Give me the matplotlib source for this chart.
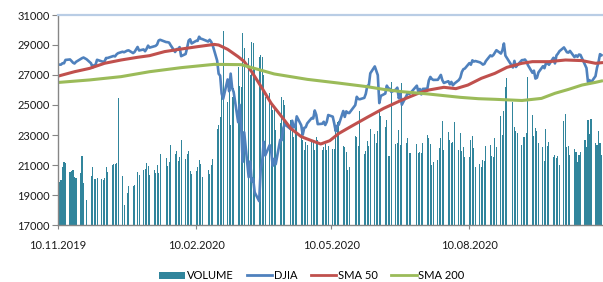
import numpy as np
import pandas as pd
import matplotlib
matplotlib.use("Agg")
import matplotlib.pyplot as plt
import matplotlib.dates as mdates
from matplotlib.patches import Patch
from matplotlib.lines import Line2D

plt.rcParams['font.family'] = ['Lato', 'DejaVu Sans']

# trading days (NYSE holidays removed)
holidays = ["2019-11-28", "2019-12-25", "2020-01-01", "2020-01-20", "2020-02-17",
            "2020-04-10", "2020-05-25", "2020-07-03", "2020-09-07"]
days = pd.bdate_range("2019-11-11", "2020-11-06", freq="C", holidays=holidays)

# DJIA closes, month by month
djia_nov19 = [27691, 27691, 27784, 27782, 28005, 28036, 27934, 27821, 27766, 27876,
              28067, 28122, 28164, 28051]
djia_dec19 = [27783, 27503, 27650, 27678, 28015, 27910, 27881, 27912, 28132, 28135,
              28236, 28268, 28240, 28377, 28455, 28551, 28516, 28621, 28645, 28462, 28538]
djia_jan20 = [28869, 28635, 28703, 28584, 28745, 28957, 28824, 28907, 28940, 29030,
              29298, 29348, 29196, 29186, 29160, 28990, 28535, 28723, 28734, 28860, 28256]
djia_feb20 = [28400, 28808, 29291, 29380, 29103, 29276, 29277, 29551, 29424, 29398,
              29232, 29348, 29220, 28992, 27961, 27081, 26957, 25767, 25409]
djia_mar20 = [26703, 25917, 27091, 26122, 25865, 23851, 25018, 23553, 21201, 23186,
              20189, 21237, 19899, 20087, 19174, 18592, 20705, 21201, 22552, 21637, 22327, 21917]
djia_apr20 = [20944, 21413, 21053, 22680, 22654, 23434, 23719, 23391, 23950, 23505,
              23538, 24242, 23650, 23019, 23475, 23516, 23775, 24134, 24101, 24634, 24346]
djia_may20 = [23724, 23750, 23883, 23665, 23875, 24331, 24222, 23765, 23248, 23625,
              23685, 24598, 24207, 24576, 24474, 24465, 24995, 25548, 25401, 25383]
djia_jun20 = [25475, 25742, 26270, 26282, 27111, 27572, 27272, 26990, 25128, 25606,
              25763, 26290, 26120, 26080, 25871, 26025, 26156, 25446, 25746, 25016, 25596, 25813]
djia_jul20 = [25735, 25827, 26288, 25891, 26068, 25707, 26075, 26086, 26643, 26871,
              26735, 26672, 26681, 26841, 27006, 26653, 26470, 26585, 26380, 26540, 26314, 26428]
djia_aug20 = [26665, 26828, 27202, 27387, 27433, 27791, 27687, 27977, 27897, 27931,
              27845, 27779, 27693, 27740, 27931, 28308, 28249, 28332, 28493, 28654, 28430]
djia_sep20 = [28646, 29100, 28293, 28134, 27501, 27941, 27535, 27666, 27993, 27996,
              28032, 27902, 27657, 27148, 27289, 26763, 26816, 27174, 27584, 27453, 27782]
djia_oct20 = [27817, 27683, 28149, 27773, 28303, 28426, 28587, 28838, 28680, 28514,
              28494, 28606, 28195, 28309, 28211, 28364, 28336, 27685, 27464, 26520, 26660, 26502]
djia_nov20 = [26925, 27481, 27848, 28390, 28323]

# volume bars, read as bar tops on the price scale (bars start at 17000)
vol_nov19 = [19890, 20000, 20890, 21220, 21110, 20560, 20620, 20670, 20220, 20110,
             20490, 21620, 19780, 18670]
vol_dec19 = [20290, 20890, 20070, 20070, 20110, 20070, 20000, 20110, 20890, 20530,
             21000, 21040, 21070, 21110, 25490, 20290, 18330, 19160, 19620, 19620, 19670]
vol_jan20 = [20530, 20330, 20670, 20730, 21160, 20960, 20330, 20670, 20470, 21000,
             20490, 21710, 21440, 20960, 21220, 22330, 21730, 21930, 21270, 21560, 22670]
vol_feb20 = [21380, 21710, 21960, 20620, 20380, 20600, 20890, 21330, 21070, 20180,
             20640, 20400, 21000, 21400, 23400, 23670, 24220, 25800, 29960]
vol_mar20 = [25220, 26620, 23670, 25510, 26160, 27560, 26270, 26220, 29780, 28780,
             28110, 27000, 29220, 29110, 27560, 28220, 28330, 28220, 27000, 25500, 25800, 25000]
vol_apr20 = [24670, 24900, 23330, 23800, 25560, 25330, 25000, 24000, 23900, 22890,
             23670, 23780, 23330, 22700, 22000, 22560, 22330, 22620, 22620, 22000, 22890]
vol_may20 = [22670, 22000, 22200, 22400, 22000, 22300, 22050, 22045, 23560, 23890,
             23960, 22290, 22220, 21890, 20670, 20900, 22930, 22890, 22270, 24620]
vol_jun20 = [21730, 21930, 22600, 22270, 23400, 23070, 22440, 23260, 24670, 24270,
             23510, 24000, 21620, 21620, 26560, 22400, 22440, 23330, 22330, 26490, 22440, 22820]
vol_jul20 = [21780, 21800, 22400, 21780, 21890, 21820, 22440, 23000, 22780, 22400,
             21000, 21180, 21330, 22110, 22780, 23930, 22000, 23170, 22670, 22440, 22560, 23840]
vol_aug20 = [22000, 23110, 21930, 22220, 21560, 21560, 22670, 22960, 22110, 20890,
             21070, 20890, 21330, 21290, 22270, 22330, 21600, 21560, 22780, 22220, 24270]
vol_sep20 = [23000, 24620, 26220, 26780, 25220, 23510, 23270, 23110, 22330, 22890,
             22840, 23110, 26890, 24330, 22930, 23490, 23270, 22440, 22180, 21290, 23400]
vol_oct20 = [22270, 22560, 21560, 21670, 21440, 21600, 21000, 23930, 24400, 22220,
             22270, 21670, 22040, 21890, 21220, 21670, 21890, 22670, 22220, 24000, 23040, 24070]
vol_nov20 = [22440, 22330, 23290, 22440, 21670]

# moving averages
sma50_dates = ["2019-11-11", "2019-11-21", "2019-12-01", "2019-12-11", "2019-12-22",
               "2020-01-02", "2020-01-10", "2020-01-20", "2020-01-31", "2020-02-11",
               "2020-02-22", "2020-02-25", "2020-03-02", "2020-03-09", "2020-03-13",
               "2020-03-18", "2020-03-25", "2020-03-31", "2020-04-07", "2020-04-13",
               "2020-04-20", "2020-04-27", "2020-05-03", "2020-05-09", "2020-05-15",
               "2020-05-23", "2020-06-03", "2020-06-14", "2020-06-26", "2020-07-07",
               "2020-07-14", "2020-07-24", "2020-08-01", "2020-08-09", "2020-08-18",
               "2020-08-27", "2020-09-04", "2020-09-14", "2020-09-21", "2020-10-02",
               "2020-10-13", "2020-10-24", "2020-11-02", "2020-11-06"]
sma50 = [26950, 27220, 27440, 27780, 28000,
         28180, 28290, 28560, 28730, 28890,
         29040, 29000, 28710, 28220, 27900,
         27220, 26110, 25110, 24220, 23440,
         22890, 22620, 22400, 22620, 23100,
         23560, 24180, 24780, 25330, 25780,
         26000, 26180, 26090, 26330, 26780,
         27110, 27510, 27780, 27890, 27890,
         28000, 27960, 27780, 27820]

sma200_dates = ["2019-11-11", "2019-12-01", "2019-12-22", "2020-01-10", "2020-01-31",
                "2020-02-22", "2020-03-11", "2020-03-22", "2020-04-02", "2020-04-13",
                "2020-04-24", "2020-05-15", "2020-06-03", "2020-06-14", "2020-06-26",
                "2020-07-14", "2020-08-04", "2020-08-16", "2020-08-27", "2020-09-14",
                "2020-09-27", "2020-10-06", "2020-10-15", "2020-10-24", "2020-11-02",
                "2020-11-06"]
sma200 = [26510, 26670, 26890, 27220, 27490,
          27710, 27690, 27380, 27070, 26890,
          26710, 26460, 26220, 26040, 25890,
          25730, 25510, 25420, 25380, 25300,
          25440, 25780, 26040, 26330, 26510,
          26600]

djia = (djia_nov19 + djia_dec19 + djia_jan20 + djia_feb20 + djia_mar20 + djia_apr20 +
        djia_may20 + djia_jun20 + djia_jul20 + djia_aug20 + djia_sep20 + djia_oct20 + djia_nov20)
volume = (vol_nov19 + vol_dec19 + vol_jan20 + vol_feb20 + vol_mar20 + vol_apr20 +
          vol_may20 + vol_jun20 + vol_jul20 + vol_aug20 + vol_sep20 + vol_oct20 + vol_nov20)

teal = "#31859c"
blue = "#4f81bd"
red = "#c0504d"
green = "#9bbb59"
base = 17000

fig = plt.figure(figsize=(6.03, 2.82), dpi=100)
ax = fig.add_axes([58/603, 1 - 225/282, 1 - 58/603, 210/282])

ax.bar(days, np.array(volume) - base, bottom=base, width=0.7, color=teal, linewidth=0,
       antialiased=False)
ax.plot(days, djia, color=blue, lw=1.9, solid_joinstyle="round")
ax.plot(pd.to_datetime(sma50_dates), sma50, color=red, lw=2.2)
ax.plot(pd.to_datetime(sma200_dates), sma200, color=green, lw=2.2)

ax.set_ylim(17000, 31000)
ax.set_yticks(range(17000, 31001, 2000))
ax.set_xlim(pd.Timestamp("2019-11-10"), pd.Timestamp("2020-11-07"))
xt = pd.to_datetime(["2019-11-10", "2020-02-10", "2020-05-10", "2020-08-10"])
ax.set_xticks(xt)
ax.xaxis.set_major_formatter(mdates.DateFormatter("%d.%m.%Y"))

for s in ["left", "bottom"]:
    ax.spines[s].set_color("#868686")
    ax.spines[s].set_linewidth(1)
ax.spines["top"].set_color("#b9cde5")
ax.spines["top"].set_linewidth(1.6)
ax.spines["right"].set_visible(False)
ax.tick_params(axis="y", length=4, color="#868686", labelsize=8, pad=2, labelcolor="#1a1a1a")
ax.tick_params(axis="x", length=3, color="#868686", labelsize=8, pad=8, labelcolor="#1a1a1a")

handles = [Patch(facecolor=teal, edgecolor="none"),
           Line2D([], [], color=blue, lw=2),
           Line2D([], [], color=red, lw=2),
           Line2D([], [], color=green, lw=2)]
labels = ["VOLUME", "DJIA", "SMA 50", "SMA 200"]
fig.legend(handles, labels, loc="center", bbox_to_anchor=(312/603, 1 - 275.5/282), ncol=4,
           frameon=False, fontsize=8, handlelength=2.3, handletextpad=0.15,
           columnspacing=1.2, handleheight=0.6)
# second copy of the legend, mostly above the picture
fig.legend(handles, labels, loc="center", bbox_to_anchor=(308/603, 1 + 6/282), ncol=4,
           frameon=False, fontsize=8, handlelength=2.3, handletextpad=0.15,
           columnspacing=2.0, handleheight=0.6)

fig.savefig("out.png", dpi=100)
